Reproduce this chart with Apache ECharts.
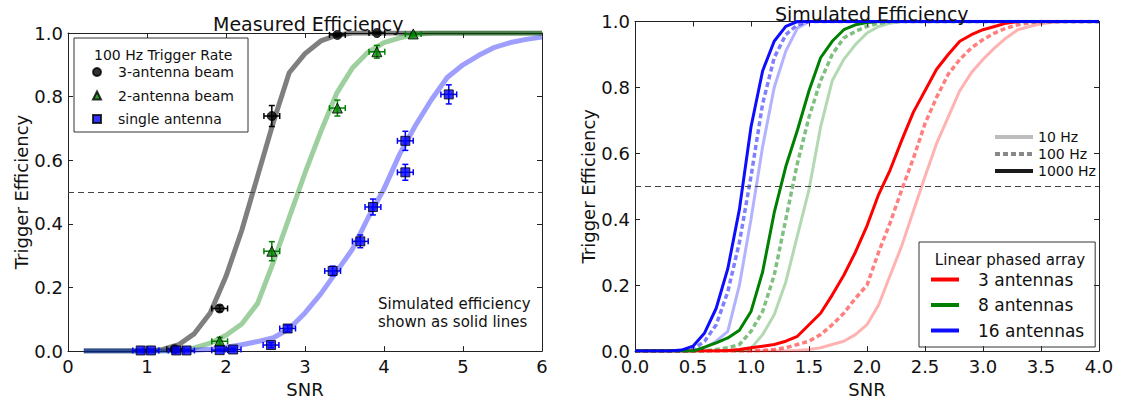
<!DOCTYPE html>
<html>
<head>
<meta charset="utf-8">
<script src="https://cdn.jsdelivr.net/npm/echarts@6/dist/echarts.min.js"></script>
<style>
html,body{margin:0;padding:0;background:#fff;}
#chart{width:1124px;height:403px;}
</style>
</head>
<body>
<div id="chart"></div>
<script>
// ---------- Left panel: measured efficiency ----------
const snrL = [0.2,0.4,0.6,0.8,1.0,1.2,1.4,1.6,1.8,2.0,2.2,2.4,2.6,2.8,3.0,3.2,3.4,3.6,3.8,4.0,4.2,4.4,4.6,4.8,5.0,5.2,5.4,5.6,5.8,6.0];
const sim3Beam = [0,0,0,0,0,0.005,0.02,0.055,0.12,0.235,0.38,0.55,0.72,0.875,0.935,0.975,0.993,1,1,1,1,1,1,1,1,1,1,1,1,1];
const sim2Beam = [0,0,0,0,0,0,0.003,0.01,0.025,0.05,0.085,0.15,0.28,0.42,0.56,0.69,0.81,0.89,0.94,0.97,0.985,0.995,1,1,1,1,1,1,1,1];
const sim1Ant  = [0,0,0,0,0,0,0,0.003,0.006,0.012,0.02,0.03,0.042,0.07,0.12,0.18,0.25,0.32,0.42,0.51,0.62,0.71,0.79,0.86,0.9,0.93,0.955,0.97,0.98,0.987];

const beam3X    = [1.35,1.92,2.58,3.41,3.91];
const beam3Y    = [0.006,0.134,0.739,0.994,1.0];
const beam3XErr = [0.1,0.1,0.1,0.1,0.1];
const beam3YErr = [0.004,0.01,0.033,0.005,0.002];

const beam2X    = [1.92,2.58,3.41,3.91,4.37];
const beam2Y    = [0.031,0.314,0.764,0.941,0.997];
const beam2XErr = [0.1,0.1,0.1,0.1,0.1];
const beam2YErr = [0.012,0.03,0.025,0.02,0.005];

const singleX    = [0.92,1.05,1.37,1.50,1.92,2.09,2.57,2.78,3.35,3.70,3.86,4.27,4.27,4.82];
const singleY    = [0.002,0.002,0.002,0.002,0.003,0.005,0.019,0.071,0.252,0.345,0.453,0.562,0.661,0.807];
const singleXErr = [0.1,0.1,0.1,0.1,0.1,0.1,0.1,0.1,0.1,0.1,0.1,0.1,0.1,0.1];
const singleYErr = [0.002,0.002,0.002,0.002,0.003,0.004,0.008,0.01,0.015,0.02,0.025,0.025,0.03,0.03];

// ---------- Right panel: simulated efficiency ----------
const snrR = [0.0,0.1,0.2,0.3,0.4,0.5,0.6,0.7,0.8,0.9,1.0,1.1,1.2,1.3,1.4,1.5,1.6,1.7,1.8,1.9,2.0,2.1,2.2,2.3,2.4,2.5,2.6,2.7,2.8,2.9,3.0,3.1,3.2,3.3,3.4,3.5,3.6,3.7,3.8,3.9,4.0];
const ant16_1000 = [0,0,0,0,0.003,0.015,0.055,0.13,0.25,0.43,0.68,0.85,0.94,0.985,1,1,1,1,1,1,1,1,1,1,1,1,1,1,1,1,1,1,1,1,1,1,1,1,1,1,1];
const ant16_100  = [0,0,0,0,0,0.005,0.03,0.08,0.18,0.33,0.53,0.75,0.89,0.96,0.99,1,1,1,1,1,1,1,1,1,1,1,1,1,1,1,1,1,1,1,1,1,1,1,1,1,1];
const ant16_10   = [0,0,0,0,0,0,0.01,0.03,0.06,0.2,0.4,0.62,0.8,0.91,0.98,1,1,1,1,1,1,1,1,1,1,1,1,1,1,1,1,1,1,1,1,1,1,1,1,1,1];
const ant8_1000  = [0,0,0,0,0,0,0.012,0.025,0.04,0.063,0.12,0.24,0.42,0.56,0.67,0.79,0.89,0.94,0.975,0.99,0.997,1,1,1,1,1,1,1,1,1,1,1,1,1,1,1,1,1,1,1,1];
const ant8_100   = [0,0,0,0,0,0,0,0.005,0.01,0.02,0.06,0.12,0.23,0.4,0.57,0.71,0.82,0.9,0.95,0.97,0.985,0.995,1,1,1,1,1,1,1,1,1,1,1,1,1,1,1,1,1,1,1];
const ant8_10    = [0,0,0,0,0,0,0,0,0,0.002,0.008,0.05,0.11,0.21,0.35,0.49,0.68,0.82,0.885,0.93,0.965,0.985,0.995,1,1,1,1,1,1,1,1,1,1,1,1,1,1,1,1,1,1];
const ant3_1000  = [0,0,0,0,0,0,0,0,0.002,0.005,0.01,0.015,0.02,0.03,0.045,0.08,0.115,0.17,0.23,0.3,0.38,0.475,0.55,0.64,0.725,0.79,0.855,0.9,0.94,0.96,0.975,0.985,0.995,1,1,1,1,1,1,1,1];
const ant3_100   = [0,0,0,0,0,0,0,0,0,0,0,0.002,0.005,0.01,0.02,0.03,0.05,0.08,0.115,0.16,0.2,0.3,0.39,0.49,0.585,0.69,0.77,0.84,0.885,0.92,0.945,0.965,0.98,0.99,0.996,1,1,1,1,1,1];
const ant3_10    = [0,0,0,0,0,0,0,0,0,0,0,0,0,0,0.002,0.005,0.01,0.02,0.03,0.05,0.08,0.14,0.23,0.32,0.425,0.53,0.63,0.71,0.79,0.845,0.885,0.92,0.95,0.975,0.985,0.993,0.998,1,1,1,1];

const threshold = 0.5;
const xTicksL = {min:0, max:6, interval:1};
const xTicksR = {min:0, max:4, interval:0.5};
const yTicks  = {min:0, max:1, interval:0.2};

const FONT = 'DejaVu Sans';
const chart = echarts.init(document.getElementById('chart'), null, {renderer:'svg'});

const pairs = (xs, ys) => xs.map((x,i)=>[x, ys[i]]);
const errData = (xs, ys, xe, ye) => xs.map((x,i)=>[x, ys[i], xe[i], ye[i]]);

function errRender(color){
  return function(params, api){
    const x=api.value(0), y=api.value(1), xe=api.value(2), ye=api.value(3);
    const c=api.coord([x,y]), l=api.coord([x-xe,y]), r=api.coord([x+xe,y]);
    const t=api.coord([x,y+ye]), b=api.coord([x,y-ye]);
    const cap=3, style={stroke:color, lineWidth:1.5};
    return {type:'group', children:[
      {type:'line', shape:{x1:l[0],y1:c[1],x2:r[0],y2:c[1]}, style},
      {type:'line', shape:{x1:l[0],y1:c[1]-cap,x2:l[0],y2:c[1]+cap}, style},
      {type:'line', shape:{x1:r[0],y1:c[1]-cap,x2:r[0],y2:c[1]+cap}, style},
      {type:'line', shape:{x1:c[0],y1:t[1],x2:c[0],y2:b[1]}, style},
      {type:'line', shape:{x1:c[0]-cap,y1:t[1],x2:c[0]+cap,y2:t[1]}, style},
      {type:'line', shape:{x1:c[0]-cap,y1:b[1],x2:c[0]+cap,y2:b[1]}, style}
    ]};
  };
}

const axLine = {show:true, onZero:false, lineStyle:{color:'#222', width:1}};
const axTick = {show:true, inside:true, length:5, lineStyle:{color:'#222', width:1}};
function xAx(grid, ticks, fmt, top){
  return Object.assign({type:'value', gridIndex:grid, position: top?'top':'bottom',
    axisLine:axLine, axisTick:axTick, splitLine:{show:false},
    axisLabel: top ? {show:false} : {show:true, color:'#111', fontSize:18, fontFamily:FONT, margin:6, formatter:fmt},
    name: top ? '' : 'SNR', nameLocation:'middle', nameGap:26,
    nameTextStyle:{color:'#111', fontSize:18, fontFamily:FONT}}, ticks);
}
function yAx(grid, right){
  return Object.assign({type:'value', gridIndex:grid, position: right?'right':'left',
    axisLine:axLine, axisTick:axTick, splitLine:{show:false},
    axisLabel: right ? {show:false} : {show:true, color:'#111', fontSize:18, fontFamily:FONT, margin:5, formatter:v=>v.toFixed(1)},
    name: right ? '' : 'Trigger Efficiency', nameLocation:'middle', nameGap:38,
    nameTextStyle:{color:'#111', fontSize:18, fontFamily:FONT}}, yTicks);
}

const thresholdLine = {silent:true, symbol:'none', label:{show:false},
  lineStyle:{color:'#444', type:[6,4], width:1}, data:[{yAxis:threshold}]};

function simLine(name, xi, yi, xs, ys, color, opacity, width, dash, z){
  return {name, type:'line', xAxisIndex:xi, yAxisIndex:yi, data:pairs(xs, ys),
    symbol:'none', showSymbol:false, smooth:false, z:z||2,
    lineStyle:{color, opacity, width, type: dash ? [5,3] : 'solid'},
    itemStyle:{color, opacity}, emphasis:{disabled:true}};
}

const series = [
  // left curves
  Object.assign(simLine('3-antenna sim', 0, 0, snrL, sim3Beam, '#000000', 0.5, 5, false), {markLine: thresholdLine}),
  simLine('2-antenna sim', 0, 0, snrL, sim2Beam, '#008000', 0.38, 5, false),
  simLine('1-antenna sim', 0, 0, snrL, sim1Ant, '#0000ff', 0.38, 5, false),
  // error bars
  {type:'custom', name:'3-antenna err', xAxisIndex:0, yAxisIndex:0, renderItem:errRender('#000000'),
    data:errData(beam3X, beam3Y, beam3XErr, beam3YErr), encode:{x:0,y:1}, z:3, clip:false},
  {type:'custom', name:'2-antenna err', xAxisIndex:0, yAxisIndex:0, renderItem:errRender('#008000'),
    data:errData(beam2X, beam2Y, beam2XErr, beam2YErr), encode:{x:0,y:1}, z:3, clip:false},
  {type:'custom', name:'single err', xAxisIndex:0, yAxisIndex:0, renderItem:errRender('#0000ff'),
    data:errData(singleX, singleY, singleXErr, singleYErr), encode:{x:0,y:1}, z:3, clip:false},
  // markers
  {type:'scatter', name:'3-antenna beam', xAxisIndex:0, yAxisIndex:0, data:pairs(beam3X, beam3Y),
    symbol:'circle', symbolSize:9, itemStyle:{color:'#000000', borderColor:'#000', borderWidth:1}, z:4, clip:false},
  {type:'scatter', name:'2-antenna beam', xAxisIndex:0, yAxisIndex:0, data:pairs(beam2X, beam2Y),
    symbol:'triangle', symbolSize:10, itemStyle:{color:'#008000', borderColor:'#000', borderWidth:1}, z:4, clip:false},
  {type:'scatter', name:'single antenna', xAxisIndex:0, yAxisIndex:0, data:pairs(singleX, singleY),
    symbol:'rect', symbolSize:9, itemStyle:{color:'#0000ff', borderColor:'#000', borderWidth:1}, z:4, clip:false},

  // right curves
  Object.assign(simLine('3 antennas 10 Hz', 2, 2, snrR, ant3_10, '#ff0000', 0.3, 3, false), {markLine: thresholdLine}),
  simLine('3 antennas 100 Hz', 2, 2, snrR, ant3_100, '#ff0000', 0.5, 3.5, true),
  simLine('3 antennas', 2, 2, snrR, ant3_1000, '#ff0000', 1, 3, false, 3),
  simLine('8 antennas 10 Hz', 2, 2, snrR, ant8_10, '#008000', 0.3, 3, false),
  simLine('8 antennas 100 Hz', 2, 2, snrR, ant8_100, '#008000', 0.5, 3.5, true),
  simLine('8 antennas', 2, 2, snrR, ant8_1000, '#008000', 1, 3, false, 3),
  simLine('16 antennas 10 Hz', 2, 2, snrR, ant16_10, '#0000ff', 0.3, 3, false),
  simLine('16 antennas 100 Hz', 2, 2, snrR, ant16_100, '#0000ff', 0.5, 3.5, true),
  simLine('16 antennas', 2, 2, snrR, ant16_1000, '#0000ff', 0.95, 3, false, 3),
  // rate legend placeholders
  simLine('10 Hz', 2, 2, [], [], '#bdbdbd', 1, 4, false),
  simLine('100 Hz', 2, 2, [], [], '#888888', 1, 4, true),
  simLine('1000 Hz', 2, 2, [], [], '#1a1a1a', 1, 4, false)
];

const hiddenSymbol = {color:'rgba(0,0,0,0)', borderWidth:0, opacity:0};

const option = {
  animation:false,
  backgroundColor:'#ffffff',
  textStyle:{fontFamily:FONT},
  title:[
    {text:'Measured Efficiency', left:208, top:9, textStyle:{fontFamily:FONT, fontSize:19, fontWeight:'normal', color:'#111'}},
    {text:'Simulated Efficiency', left:770, top:-1, textStyle:{fontFamily:FONT, fontSize:19, fontWeight:'normal', color:'#111'}},
    {text:'100 Hz Trigger Rate', left:89, top:43, textStyle:{fontFamily:FONT, fontSize:14, fontWeight:'normal', color:'#111'}},
    {text:'Simulated efficiency\nshown as solid lines', left:373, top:290,
      textStyle:{fontFamily:FONT, fontSize:15, fontWeight:'normal', color:'#111', lineHeight:18}},
    {text:'Linear phased array', left:1005, textAlign:'center', top:247, textStyle:{fontFamily:FONT, fontSize:15, fontWeight:'normal', color:'#111'}}
  ],
  legend:[
    {data:['3-antenna beam','2-antenna beam','single antenna'], orient:'vertical', left:74, top:38,
      padding:[27,14,6,18], itemWidth:8, itemHeight:8, itemGap:9.5, borderColor:'#333', borderWidth:1,
      selectedMode:false, textStyle:{fontFamily:FONT, fontSize:14, color:'#111', padding:[0,0,0,12]}},
    {data:['3 antennas','8 antennas','16 antennas'], orient:'vertical', left:919, top:242,
      padding:[29,11,8,10], itemWidth:28, itemHeight:12, itemGap:8.5, borderColor:'#333', borderWidth:1,
      selectedMode:false, itemStyle:hiddenSymbol, lineStyle:{width:4},
      textStyle:{fontFamily:FONT, fontSize:17, color:'#111', padding:[0,0,0,14]}},
    {data:['10 Hz','100 Hz','1000 Hz'], orient:'vertical', left:993, top:130, padding:0,
      itemWidth:38, itemHeight:10, itemGap:3, selectedMode:false, itemStyle:hiddenSymbol, lineStyle:{width:4},
      textStyle:{fontFamily:FONT, fontSize:14, color:'#111'}}
  ],
  grid:[
    {left:68, top:33, width:474, height:322, show:false},
    {left:635, top:21.5, width:464, height:333.5, show:false}
  ],
  xAxis:[
    xAx(0, xTicksL, v=>String(v), false),
    xAx(0, xTicksL, null, true),
    xAx(1, xTicksR, v=>v.toFixed(1), false),
    xAx(1, xTicksR, null, true)
  ],
  yAxis:[ yAx(0,false), yAx(0,true), yAx(1,false), yAx(1,true) ],
  series
};
chart.setOption(option);
</script>
</body>
</html>
